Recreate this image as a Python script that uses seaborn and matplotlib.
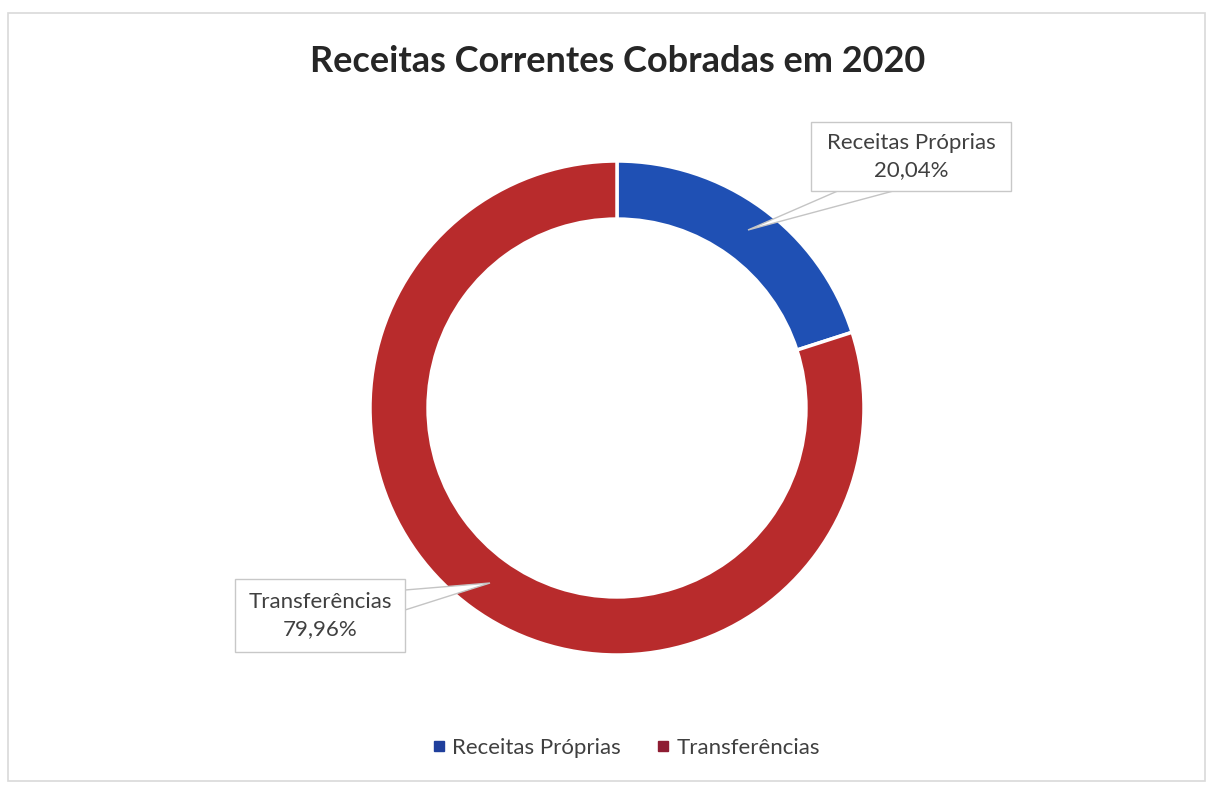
import numpy as np
import matplotlib
matplotlib.use("Agg")
import matplotlib.pyplot as plt
from matplotlib.patches import Polygon, Rectangle
from matplotlib.lines import Line2D
import seaborn as sns

categories = ["Receitas Próprias", "Transferências"]
shares = [20.04, 79.96]
colors = ["#1f50b4", "#b82b2c"]
legend_colors = ["#1f3f9c", "#8e1c32"]
title = "Receitas Correntes Cobradas em 2020"

sns.set_theme(style="white")
plt.rcParams["font.family"] = ["Lato", "DejaVu Sans"]

W, H = 1213, 788
fig = plt.figure(figsize=(W / 100, H / 100), dpi=100)
fig.patch.set_facecolor("white")

def fx(x): return x / W
def fy(y): return 1 - y / H

# outer frame
fig.patches.append(Rectangle((fx(8), fy(781)), fx(1205) - fx(8), fy(13) - fy(781),
                             transform=fig.transFigure, fill=False,
                             edgecolor="#d9d9d9", linewidth=1.2))

cx, cy, R = 617, 408, 247
ax = fig.add_axes([fx(cx - R), fy(cy + R), 2 * R / W, 2 * R / H])
ax.pie(shares, colors=colors, startangle=90, counterclock=False, radius=1,
       wedgeprops=dict(width=0.235, edgecolor="white", linewidth=2.5))
ax.set_xlim(-1, 1); ax.set_ylim(-1, 1)
ax.set_aspect("auto")
ax.axis("off")

fig.text(fx(618), fy(62), title, ha="center", va="center", fontsize=26,
         fontweight="bold", color="#262626")

# leader lines
for pts in ([(840, 190), (897, 190), (748, 230)],
            [(405, 590), (405, 610), (490, 583)]):
    fig.patches.append(Polygon([(fx(x), fy(y)) for x, y in pts], closed=True,
                               transform=fig.transFigure, facecolor="white",
                               edgecolor="#c4c4c4", linewidth=1.0, zorder=5))

# callout boxes
boxes = [(811, 122, 1011, 191), (235, 579, 405, 652)]
for (x0, y0, x1, y1), cat, val in zip(boxes, categories, shares):
    fig.patches.append(Rectangle((fx(x0), fy(y1)), fx(x1) - fx(x0), fy(y0) - fy(y1),
                                 transform=fig.transFigure, facecolor="white",
                                 edgecolor="#c8c8c8", linewidth=1.0, zorder=6))
    lab = f"{cat}\n{val:.2f}%".replace(".", ",")
    fig.text(fx((x0 + x1) / 2), fy((y0 + y1) / 2), lab, ha="center", va="center",
             fontsize=16, color="#404040", linespacing=1.4, zorder=7)

handles = [Line2D([], [], marker="s", linestyle="", markersize=7,
                  markerfacecolor=c, markeredgecolor=c) for c in legend_colors]
fig.legend(handles, categories, loc="center", bbox_to_anchor=(fx(624), fy(748)),
           ncol=2, frameon=False, fontsize=16, handlelength=1.0, handletextpad=0.1,
           columnspacing=1.4, labelcolor="#404040")

fig.savefig("out.png", dpi=100, facecolor="white")
